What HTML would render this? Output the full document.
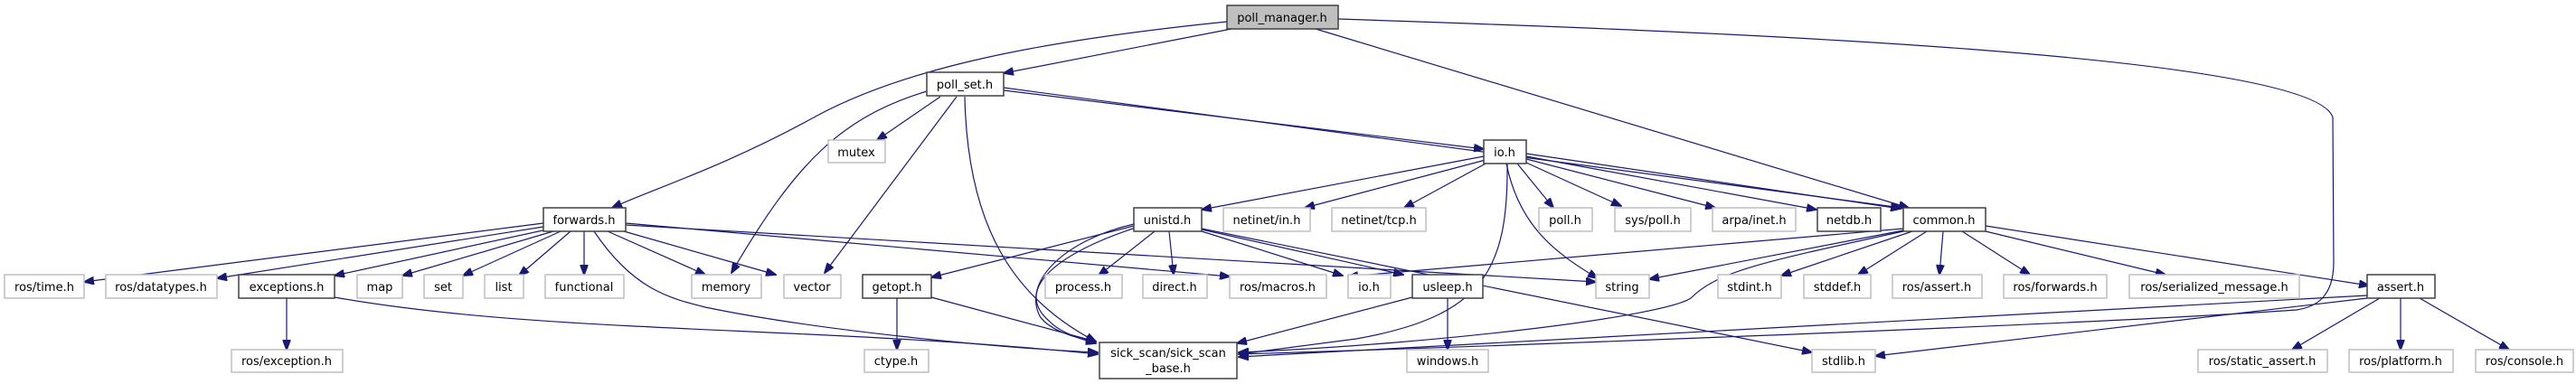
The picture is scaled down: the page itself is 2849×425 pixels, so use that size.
<!DOCTYPE html>
<html><head><meta charset="utf-8"><style>
html,body{margin:0;padding:0;background:#fff;}
svg{display:block;}
text{font-family:"DejaVu Sans","Liberation Sans",sans-serif;font-size:13px;fill:#000;text-anchor:middle;}
.g{fill:#fff;stroke:#bfbfbf;stroke-width:1.5;}
.b{fill:#fff;stroke:#404040;stroke-width:1.5;}
.e{fill:none;stroke:#191970;stroke-width:1.2;}
</style></head><body>
<svg width="2849" height="425" viewBox="0 0 2849 425" xmlns="http://www.w3.org/2000/svg">
<defs><marker id="a" markerWidth="12" markerHeight="9" refX="11" refY="4.5" orient="auto" markerUnits="userSpaceOnUse"><path d="M0,0 L12,4.5 L0,9 z" fill="#191970" stroke="#191970"/></marker></defs>
<g marker-end="url(#a)">
<path class="e" d="M1357,24 C1150,45 1000,75 900,130 S720,210 677,230"/>
<path class="e" d="M1362,32 L1110,81"/>
<path class="e" d="M1455,32 L2111,230"/>
<path class="e" d="M1480,21 C1900,35 2560,60 2580,130 L2581,290 C2581,330 2560,340 2540,343 C2300,360 1600,385 1370,392"/>
<path class="e" d="M1025,101 C930,130 880,180 809,302"/>
<path class="e" d="M1040,107 L970,155"/>
<path class="e" d="M1058,107 L912,302"/>
<path class="e" d="M1067,107 C1070,250 1120,330 1212,378"/>
<path class="e" d="M1110,100 L1641,165"/>
<path class="e" d="M1110,97 L2103,230"/>
<path class="e" d="M1641,173 L1329,232"/>
<path class="e" d="M1643,177 L1443,230"/>
<path class="e" d="M1645,180 L1553,230"/>
<path class="e" d="M1678,181 L1718,230"/>
<path class="e" d="M1688,180 L1793,228"/>
<path class="e" d="M1688,176 L1897,230"/>
<path class="e" d="M1688,173 L2009,232"/>
<path class="e" d="M1688,170 L2102,231"/>
<path class="e" d="M1666,181 C1680,250 1720,280 1767,308"/>
<path class="e" d="M1667,181 C1668,300 1640,350 1500,375 L1370,392"/>
<path class="e" d="M1254,250 L1030,307"/>
<path class="e" d="M1277,256 L1215,305"/>
<path class="e" d="M1293,256 L1298,304"/>
<path class="e" d="M1329,256 L1485,305"/>
<path class="e" d="M1329,254 L1552,304"/>
<path class="e" d="M1329,253 L2004,390"/>
<path class="e" d="M1254,248 C1180,265 1130,310 1150,350 C1160,365 1190,375 1212,378"/>
<path class="e" d="M1256,252 C1170,280 1120,320 1160,355 C1170,366 1190,374 1212,380"/>
<path class="e" d="M601,247 L93,312"/>
<path class="e" d="M601,251 L240,308"/>
<path class="e" d="M605,254 L370,305"/>
<path class="e" d="M612,256 L445,305"/>
<path class="e" d="M620,256 L512,305"/>
<path class="e" d="M631,256 L574,305"/>
<path class="e" d="M646,256 L646,304"/>
<path class="e" d="M672,256 L780,304"/>
<path class="e" d="M690,256 L858,304"/>
<path class="e" d="M692,247 L1360,306"/>
<path class="e" d="M692,249 L1765,312"/>
<path class="e" d="M657,256 C700,320 740,330 780,340 C900,365 1100,385 1214,390"/>
<path class="e" d="M992,330 L992,387"/>
<path class="e" d="M1030,329 L1212,378"/>
<path class="e" d="M317,330 L317,387"/>
<path class="e" d="M370,329 C600,370 900,360 1214,392"/>
<path class="e" d="M1562,329 L1368,380"/>
<path class="e" d="M1601,330 L1601,387"/>
<path class="e" d="M2105,255 L1824,309"/>
<path class="e" d="M2105,256 C1950,290 1900,300 1870,330 C1840,350 1600,380 1370,390"/>
<path class="e" d="M2105,253 L1491,306"/>
<path class="e" d="M2115,256 L1970,305"/>
<path class="e" d="M2131,256 L2055,304"/>
<path class="e" d="M2149,256 L2145,304"/>
<path class="e" d="M2170,256 L2245,304"/>
<path class="e" d="M2196,256 L2395,304"/>
<path class="e" d="M2196,250 L2620,316"/>
<path class="e" d="M2632,330 L2535,387"/>
<path class="e" d="M2655,330 L2655,387"/>
<path class="e" d="M2676,330 L2775,387"/>
<path class="e" d="M2618,327 L1370,395"/>
<path class="e" d="M2618,330 L2074,394"/>
</g>
<rect x="1357" y="6" width="123" height="26" fill="#bfbfbf" stroke="#404040" stroke-width="1.5"/><text x="1418" y="24">poll_manager.h</text>
<rect class="b" x="1025" y="80" width="85" height="26"/><text x="1067" y="98">poll_set.h</text>
<rect class="g" x="916" y="155" width="63" height="25"/><text x="947" y="173">mutex</text>
<rect class="b" x="1641" y="155" width="47" height="26"/><text x="1664" y="173">io.h</text>
<rect class="b" x="601" y="230" width="91" height="26"/><text x="646" y="248">forwards.h</text>
<rect class="b" x="1254" y="230" width="75" height="26"/><text x="1291" y="248">unistd.h</text>
<rect class="g" x="1353" y="230" width="96" height="26"/><text x="1401" y="248">netinet/in.h</text>
<rect class="g" x="1473" y="230" width="104" height="26"/><text x="1525" y="248">netinet/tcp.h</text>
<rect class="g" x="1702" y="230" width="59" height="26"/><text x="1731" y="248">poll.h</text>
<rect class="g" x="1786" y="230" width="84" height="26"/><text x="1828" y="248">sys/poll.h</text>
<rect class="g" x="1894" y="230" width="92" height="26"/><text x="1940" y="248">arpa/inet.h</text>
<rect class="b" x="2010" y="230" width="70" height="26"/><text x="2045" y="248">netdb.h</text>
<rect class="b" x="2105" y="230" width="91" height="26"/><text x="2150" y="248">common.h</text>
<rect class="g" x="5" y="304" width="88" height="26"/><text x="49" y="322">ros/time.h</text>
<rect class="g" x="117" y="304" width="123" height="26"/><text x="178" y="322">ros/datatypes.h</text>
<rect class="b" x="264" y="304" width="106" height="26"/><text x="317" y="322">exceptions.h</text>
<rect class="g" x="395" y="304" width="50" height="26"/><text x="420" y="322">map</text>
<rect class="g" x="469" y="304" width="43" height="26"/><text x="490" y="322">set</text>
<rect class="g" x="536" y="304" width="43" height="26"/><text x="557" y="322">list</text>
<rect class="g" x="603" y="304" width="87" height="26"/><text x="646" y="322">functional</text>
<rect class="g" x="765" y="304" width="77" height="26"/><text x="803" y="322">memory</text>
<rect class="g" x="867" y="304" width="63" height="26"/><text x="898" y="322">vector</text>
<rect class="b" x="954" y="304" width="76" height="26"/><text x="992" y="322">getopt.h</text>
<rect class="g" x="1156" y="304" width="85" height="26"/><text x="1198" y="322">process.h</text>
<rect class="g" x="1264" y="304" width="71" height="26"/><text x="1299" y="322">direct.h</text>
<rect class="g" x="1360" y="304" width="107" height="26"/><text x="1413" y="322">ros/macros.h</text>
<rect class="g" x="1491" y="304" width="47" height="26"/><text x="1514" y="322">io.h</text>
<rect class="b" x="1562" y="304" width="78" height="26"/><text x="1601" y="322">usleep.h</text>
<rect class="g" x="1765" y="304" width="59" height="26"/><text x="1794" y="322">string</text>
<rect class="g" x="1900" y="304" width="70" height="26"/><text x="1935" y="322">stdint.h</text>
<rect class="g" x="1995" y="304" width="74" height="26"/><text x="2032" y="322">stddef.h</text>
<rect class="g" x="2093" y="304" width="99" height="26"/><text x="2142" y="322">ros/assert.h</text>
<rect class="g" x="2216" y="304" width="114" height="26"/><text x="2273" y="322">ros/forwards.h</text>
<rect class="g" x="2355" y="304" width="188" height="26"/><text x="2449" y="322">ros/serialized_message.h</text>
<rect class="b" x="2618" y="304" width="75" height="26"/><text x="2655" y="322">assert.h</text>
<rect class="g" x="256" y="387" width="123" height="25"/><text x="317" y="404">ros/exception.h</text>
<rect class="g" x="956" y="387" width="71" height="25"/><text x="991" y="404">ctype.h</text>
<rect class="b" x="1216" y="379" width="152" height="40"/><text x="1292" y="395">sick_scan/sick_scan</text><text x="1292" y="412">_base.h</text>
<rect class="g" x="1556" y="387" width="90" height="25"/><text x="1601" y="404">windows.h</text>
<rect class="g" x="2004" y="387" width="70" height="25"/><text x="2039" y="404">stdlib.h</text>
<rect class="g" x="2431" y="387" width="143" height="25"/><text x="2502" y="404">ros/static_assert.h</text>
<rect class="g" x="2598" y="387" width="115" height="25"/><text x="2655" y="404">ros/platform.h</text>
<rect class="g" x="2738" y="387" width="108" height="25"/><text x="2792" y="404">ros/console.h</text>
</svg>
</body></html>
